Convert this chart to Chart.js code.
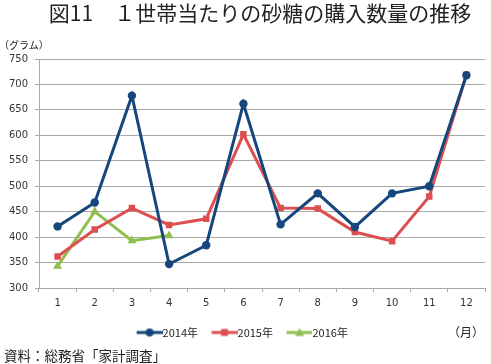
<!DOCTYPE html>
<html>
<head>
<meta charset="utf-8">
<script src="https://cdn.jsdelivr.net/npm/chart.js@4.4.0/dist/chart.umd.min.js"></script>
<style>
  body { margin: 0; background: #fff; }
  #wrap { position: relative; width: 491px; height: 364px; font-family: "Noto Sans CJK JP", sans-serif; color: #222; }
  #chart { position: absolute; left: 0; top: 0; }
  .txt { position: absolute; white-space: nowrap; }
  #title { left: 29px; top: 0; width: 462px; text-align: center; font-size: 21px; line-height: 24px; }
  #unitY { left: -1px; top: 37px; font-size: 10px; }
  #unitX { left: 448px; top: 323px; font-size: 12px; }
  #source { left: 4px; top: 345px; font-size: 13.5px; }
</style>
</head>
<body>
<div id="wrap">
  <canvas id="chart" width="491" height="364"></canvas>
  <div class="txt" id="title">図11　１世帯当たりの砂糖の購入数量の推移</div>
  <div class="txt" id="unitY">（グラム）</div>
  <div class="txt" id="unitX">（月）</div>
  <div class="txt" id="source">資料：総務省「家計調査」</div>
</div>
<script>
// データ（グラム）
const months = ['1', '2', '3', '4', '5', '6', '7', '8', '9', '10', '11', '12'];
const y2014 = [421, 468, 678, 347, 384, 662, 425, 486, 420, 486, 500, 718];
const y2015 = [362, 415, 457, 424, 436, 602, 457, 456, 410, 392, 480, 719];
const y2016 = [343, 450, 393, 403];
const yTicks = [300, 350, 400, 450, 500, 550, 600, 650, 700, 750];

const seriesNames = ['2014年', '2015年', '2016年'];
const colors = ['#16477c', '#dd4f4f', '#8fc04f'];
const shapes = ['circle', 'rect', 'triangle'];

// 凡例用のアイコン（線＋マーカー）。右寄せで描いて文字に近づける
function legendIcon(color, shape) {
    const c = document.createElement('canvas');
    c.width = 31; c.height = 10;
    const g = c.getContext('2d');
    g.strokeStyle = color;
    g.fillStyle = color;
    g.lineWidth = 3;
    g.beginPath();
    g.moveTo(5, 5); g.lineTo(31, 5);
    g.stroke();
    g.beginPath();
    const cx = 18;
    if (shape === 'circle') {
        g.arc(cx, 5, 4, 0, Math.PI * 2);
    } else if (shape === 'rect') {
        g.rect(cx - 3.5, 1.5, 7, 7);
    } else {
        g.moveTo(cx, 0.5); g.lineTo(cx + 4.5, 8.5); g.lineTo(cx - 4.5, 8.5); g.closePath();
    }
    g.fill();
    return c;
}

const tickFont = { family: 'DejaVu Sans', size: 10 };
const gridColor = '#a9a9a9';

const ctx = document.getElementById('chart').getContext('2d');
new Chart(ctx, {
    type: 'line',
    data: {
        labels: months,
        datasets: [y2014, y2015, y2016].map((d, i) => ({
            label: seriesNames[i],
            data: d,
            borderColor: colors[i],
            backgroundColor: colors[i],
            pointBackgroundColor: colors[i],
            pointBorderColor: colors[i],
            pointBorderWidth: 0,
            pointStyle: shapes[i],
            pointRadius: i === 0 ? 4.2 : (i === 1 ? 4.6 : 5.2),
            borderWidth: 3,
            tension: 0,
            fill: false
        }))
    },
    options: {
        responsive: false,
        animation: false,
        layout: { padding: { top: 59, right: 6, bottom: 16, left: 0 } },
        scales: {
            x: {
                offset: true,
                grid: { offset: true, drawOnChartArea: false, color: gridColor, tickLength: 4 },
                border: { color: gridColor },
                ticks: { color: '#333', font: tickFont, padding: 5, maxRotation: 0 },
                afterFit: (s) => { s.height = 25; }
            },
            y: {
                min: 300,
                max: 750,
                afterBuildTicks: (s) => { s.ticks = yTicks.map(v => ({ value: v })); },
                grid: { color: gridColor, tickLength: 4 },
                border: { color: gridColor },
                ticks: { color: '#333', font: tickFont, padding: 7 },
                afterFit: (s) => { s.width = 39; }
            }
        },
        plugins: {
            tooltip: { enabled: false },
            legend: {
                position: 'bottom',
                labels: {
                    usePointStyle: true,
                    pointStyleWidth: 20,
                    padding: 14,
                    color: '#222',
                    font: { family: 'Noto Sans CJK JP', size: 11 },
                    generateLabels: (chart) => {
                        const items = Chart.defaults.plugins.legend.labels.generateLabels(chart);
                        return items.map((it, i) => Object.assign(it, { pointStyle: legendIcon(colors[i], shapes[i]) }));
                    }
                }
            }
        }
    }
});
</script>
</body>
</html>
